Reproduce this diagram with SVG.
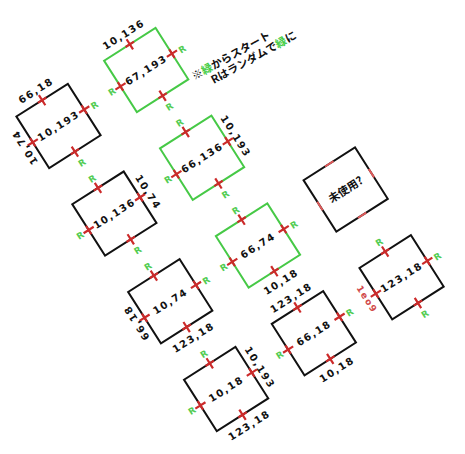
<svg xmlns="http://www.w3.org/2000/svg" width="465" height="454" viewBox="0 0 465 454">
<defs>
<style>
.sq{fill:none;stroke:#111;stroke-width:2}
.gr{stroke:#46c946}
.mk{stroke:#cc2a2a;stroke-width:2.2;fill:none}
.c{font-family:"DejaVu Sans","Liberation Sans",sans-serif;font-weight:bold;font-size:10px;fill:#111;text-anchor:middle;letter-spacing:1.5px}
.r{font-family:"DejaVu Sans","Liberation Sans",sans-serif;font-weight:bold;font-size:9px;fill:#52cc52;text-anchor:middle}
.note{font-family:"Noto Sans CJK JP",sans-serif;font-weight:bold;font-size:11px;fill:#111}
.red{fill:#d04848;font-size:9px}
</style>
<g id="mks">
<path d="M-5,-30.5H5M0,-36.5V-24.5"/>
<path d="M-5,30.5H5M0,24.5V36.5"/>
<path d="M30.5,-5V5M24.5,0H36.5"/>
<path d="M-30.5,-5V5M-36.5,0H-24.5"/>
</g>
</defs>
<rect width="465" height="454" fill="#fff"/>
<g id="connectors"/>
<g transform="translate(58.5,125.9) rotate(-32.5)">
<g id="n-10-193" transform="translate(0,0)">
<rect class="sq" x="-30.5" y="-30.5" width="61" height="61"/>
<use href="#mks" class="mk"/>
<text class="c" y="3.5">10,193</text>
<text class="c" y="-38.5">66,18</text>
<text class="c" transform="translate(-36.5,0) rotate(-90)">10,74</text>
<text class="r" x="41.5" y="5">R</text>
<text class="r" y="46.7">R</text>
</g>
<g id="n-67-193" transform="translate(104,0)">
<rect class="sq gr" x="-30.5" y="-30.5" width="61" height="61"/>
<use href="#mks" class="mk"/>
<text class="c" y="3.5">67,193</text>
<text class="c" y="-38.5">10,136</text>
<text class="r" x="41.5" y="5">R</text>
<text class="r" y="46.7">R</text>
<text class="r" x="-40.5" y="3.2">R</text>
</g>
<g id="n-10-136" transform="translate(0,104)">
<rect class="sq" x="-30.5" y="-30.5" width="61" height="61"/>
<use href="#mks" class="mk"/>
<text class="c" y="3.5">10,136</text>
<text class="c" transform="translate(36.5,0) rotate(90)">10,74</text>
<text class="r" y="-38.3">R</text>
<text class="r" y="46.7">R</text>
<text class="r" x="-40.5" y="3.2">R</text>
</g>
<g id="n-66-136" transform="translate(104,104)">
<rect class="sq gr" x="-30.5" y="-30.5" width="61" height="61"/>
<use href="#mks" class="mk"/>
<text class="c" y="3.5">66,136</text>
<text class="c" transform="translate(36.5,0) rotate(90)">10,193</text>
<text class="r" y="-38.3">R</text>
<text class="r" y="46.7">R</text>
<text class="r" x="-40.5" y="3.2">R</text>
</g>
<g id="n-10-74" transform="translate(0,208)">
<rect class="sq" x="-30.5" y="-30.5" width="61" height="61"/>
<use href="#mks" class="mk"/>
<text class="c" y="3.5">10,74</text>
<text class="c" y="46.5">123,18</text>
<text class="c" transform="translate(-36.5,0) rotate(-90)">66,18</text>
<text class="r" y="-38.3">R</text>
<text class="r" x="41.5" y="5">R</text>
</g>
<g id="n-66-74" transform="translate(104,208)">
<rect class="sq gr" x="-30.5" y="-30.5" width="61" height="61"/>
<use href="#mks" class="mk"/>
<text class="c" y="3.5">66,74</text>
<text class="c" y="46.5">10,18</text>
<text class="r" y="-38.3">R</text>
<text class="r" x="41.5" y="5">R</text>
<text class="r" x="-40.5" y="3.2">R</text>
</g>
<g id="n-unused" transform="translate(208,208)">
<rect class="sq" x="-30.5" y="-30.5" width="61" height="61"/>
<path d="M-5,-30.5H5M-5,30.5H5M30.5,-5V5M-30.5,-5V5" stroke="#e05a5a" stroke-width="2" fill="none"/>
<text class="note" y="4" text-anchor="middle">未使用?</text>
</g>
<g id="n-10-18" transform="translate(0,312)">
<rect class="sq" x="-30.5" y="-30.5" width="61" height="61"/>
<use href="#mks" class="mk"/>
<text class="c" y="3.5">10,18</text>
<text class="c" y="46.5">123,18</text>
<text class="c" transform="translate(36.5,0) rotate(90)">10,193</text>
<text class="r" y="-38.3">R</text>
<text class="r" x="-40.5" y="3.2">R</text>
</g>
<g id="n-66-18" transform="translate(104,312)">
<rect class="sq" x="-30.5" y="-30.5" width="61" height="61"/>
<use href="#mks" class="mk"/>
<text class="c" y="3.5">66,18</text>
<text class="c" y="-38.5">123,18</text>
<text class="c" y="46.5">10,18</text>
<text class="r" x="41.5" y="5">R</text>
<text class="r" x="-40.5" y="3.2">R</text>
</g>
<g id="n-123-18" transform="translate(208,312)">
<rect class="sq" x="-30.5" y="-30.5" width="61" height="61"/>
<use href="#mks" class="mk"/>
<text class="c" y="3.5">123,18</text>
<text class="c red" transform="translate(-44,0) rotate(90)">1eo9</text>
<text class="r" y="-38.3">R</text>
<text class="r" x="41.5" y="5">R</text>
<text class="r" y="46.7">R</text>
</g>
</g>
<g id="note" transform="translate(194.4,80.4) rotate(-29)">
<text class="note" x="0" y="0">※<tspan fill="#44cc44">緑</tspan>からスタート</text>
<text class="note" x="15.2" y="12.6">Rはランダムで<tspan fill="#44cc44">緑</tspan>に</text>
</g>
</svg>
